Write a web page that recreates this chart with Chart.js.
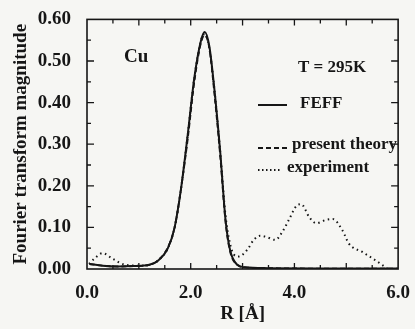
<!DOCTYPE html>
<html>
<head>
<meta charset="utf-8">
<script src="https://cdn.jsdelivr.net/npm/chart.js@4"></script>
<style>
  body { margin: 0; background: #f6f6f3; }
</style>
</head>
<body>
<canvas id="myChart" width="415" height="329"></canvas>
<script>
// R values (Angstrom) for the two theory curves
const rTheory = [0.05, 0.3, 0.6, 0.9, 1.2, 1.37, 1.56, 1.69, 1.81, 1.94, 2.07, 2.2, 2.27, 2.36, 2.45, 2.57, 2.67, 2.76, 2.9, 3.05, 3.5, 4.5, 5.5, 6.0];
const feff = [0.012, 0.008, 0.006, 0.007, 0.01, 0.02, 0.05, 0.10, 0.19, 0.32, 0.46, 0.55, 0.57, 0.535, 0.44, 0.28, 0.12, 0.045, 0.01, 0.004, 0.002, 0.001, 0.001, 0.001];
const presentTheory = [0.012, 0.008, 0.006, 0.007, 0.01, 0.021, 0.052, 0.10, 0.19, 0.31, 0.45, 0.545, 0.562, 0.53, 0.43, 0.27, 0.115, 0.042, 0.01, 0.004, 0.002, 0.001, 0.001, 0.001];

// experiment
const rExp = [0.04, 0.15, 0.3, 0.5, 0.74, 1.0, 1.2, 1.37, 1.56, 1.69, 1.81, 1.94, 2.07, 2.2, 2.27, 2.36, 2.45, 2.57, 2.67, 2.76, 2.83, 2.92, 3.09, 3.21, 3.34, 3.46, 3.63, 3.78, 3.9, 4.04, 4.13, 4.29, 4.42, 4.61, 4.74, 4.93, 5.05, 5.31, 5.5, 5.69, 5.8];
const experiment = [0.012, 0.026, 0.038, 0.024, 0.01, 0.008, 0.01, 0.02, 0.05, 0.10, 0.19, 0.32, 0.46, 0.55, 0.565, 0.53, 0.44, 0.28, 0.13, 0.06, 0.035, 0.03, 0.046, 0.069, 0.08, 0.077, 0.07, 0.092, 0.12, 0.152, 0.156, 0.124, 0.11, 0.118, 0.12, 0.092, 0.061, 0.041, 0.026, 0.01, 0.0];

const yTicks = [0, 0.1, 0.2, 0.3, 0.4, 0.5, 0.6];
const xTicks = [0, 2, 4, 6];

const ink = '#161616';
const serif = '"Liberation Serif", "DejaVu Serif", serif';

function pts(xs, ys) {
  return xs.map((x, i) => ({ x: x, y: ys[i] }));
}

// frame, inward ticks, legend text
const decor = {
  id: 'decor',
  beforeDraw(chart) {
    const c = chart.ctx;
    c.save();
    c.fillStyle = '#f6f6f3';
    c.fillRect(0, 0, chart.width, chart.height);
    c.restore();
  },
  afterDraw(chart) {
    const c = chart.ctx;
    const a = chart.chartArea;
    const xs = chart.scales.x, ys = chart.scales.y;
    c.save();
    c.strokeStyle = ink;
    c.lineWidth = 1.6;
    c.strokeRect(a.left, a.top, a.right - a.left, a.bottom - a.top);

    c.lineWidth = 1.3;
    c.beginPath();
    for (let v = 0.05; v < 0.6; v += 0.05) {
      const y = ys.getPixelForValue(v);
      const major = Math.abs(v * 10 - Math.round(v * 10)) < 0.01;
      const len = major ? 7 : 4;
      c.moveTo(a.left, y); c.lineTo(a.left + len, y);
      c.moveTo(a.right, y); c.lineTo(a.right - len, y);
    }
    for (let v = 0.5; v < 6; v += 0.5) {
      const x = xs.getPixelForValue(v);
      const len = Number.isInteger(v) ? 6 : 4;
      c.moveTo(x, a.bottom); c.lineTo(x, a.bottom - len);
      c.moveTo(x, a.top); c.lineTo(x, a.top + len);
    }
    c.stroke();

    c.fillStyle = ink;
    c.textBaseline = 'middle';
    c.font = 'bold 19px ' + serif;
    c.fillText('Cu', 124, 57);
    c.font = 'bold 17px ' + serif;
    c.fillText('T = 295K', 298, 68);
    c.fillText('FEFF', 300, 104);
    c.fillText('present theory', 292, 145);
    c.fillText('experiment', 287, 168);

    c.lineWidth = 2;
    c.beginPath(); c.moveTo(258, 105); c.lineTo(287, 105); c.stroke();
    c.setLineDash([5, 3]);
    c.beginPath(); c.moveTo(258, 148); c.lineTo(288, 148); c.stroke();
    c.setLineDash([1.5, 2.5]);
    c.beginPath(); c.moveTo(258, 170); c.lineTo(282, 170); c.stroke();
    c.restore();
  }
};

new Chart(document.getElementById('myChart'), {
  type: 'line',
  data: {
    datasets: [
      {
        label: 'FEFF',
        data: pts(rTheory, feff),
        borderColor: ink,
        borderWidth: 2,
        order: 1
      },
      {
        label: 'present theory',
        data: pts(rTheory, presentTheory),
        borderColor: ink,
        borderWidth: 1.8,
        borderDash: [5, 3],
        order: 2
      },
      {
        label: 'experiment',
        data: pts(rExp, experiment),
        borderColor: ink,
        borderWidth: 2,
        borderDash: [1.5, 3.5],
        order: 3
      }
    ]
  },
  options: {
    responsive: false,
    animation: false,
    layout: { padding: { top: 16, right: 12, left: 6, bottom: 0 } },
    elements: {
      point: { radius: 0 },
      line: { cubicInterpolationMode: 'monotone', fill: false }
    },
    plugins: {
      legend: { display: false },
      tooltip: { enabled: false }
    },
    scales: {
      x: {
        type: 'linear',
        min: 0,
        max: 6,
        afterBuildTicks: (s) => { s.ticks = xTicks.map(v => ({ value: v })); },
        afterFit: (s) => { s.height = 60; },
        grid: { display: false },
        border: { display: false },
        ticks: {
          color: ink,
          padding: 5,
          font: { family: serif, size: 19, weight: 'bold' },
          callback: (v) => v.toFixed(1)
        },
        title: {
          display: true,
          text: 'R [Å]',
          color: ink,
          padding: { top: 6 },
          font: { family: serif, size: 19, weight: 'bold' }
        }
      },
      y: {
        min: 0,
        max: 0.6,
        afterBuildTicks: (s) => { s.ticks = yTicks.map(v => ({ value: v })); },
        afterFit: (s) => { s.width = 81; },
        grid: { display: false },
        border: { display: false },
        ticks: {
          color: ink,
          padding: 8,
          font: { family: serif, size: 19, weight: 'bold' },
          callback: (v) => v.toFixed(2)
        },
        title: {
          display: true,
          text: 'Fourier transform magnitude',
          color: ink,
          padding: { bottom: 2 },
          font: { family: serif, size: 19, weight: 'bold' }
        }
      }
    }
  },
  plugins: [decor]
});
</script>
</body>
</html>
